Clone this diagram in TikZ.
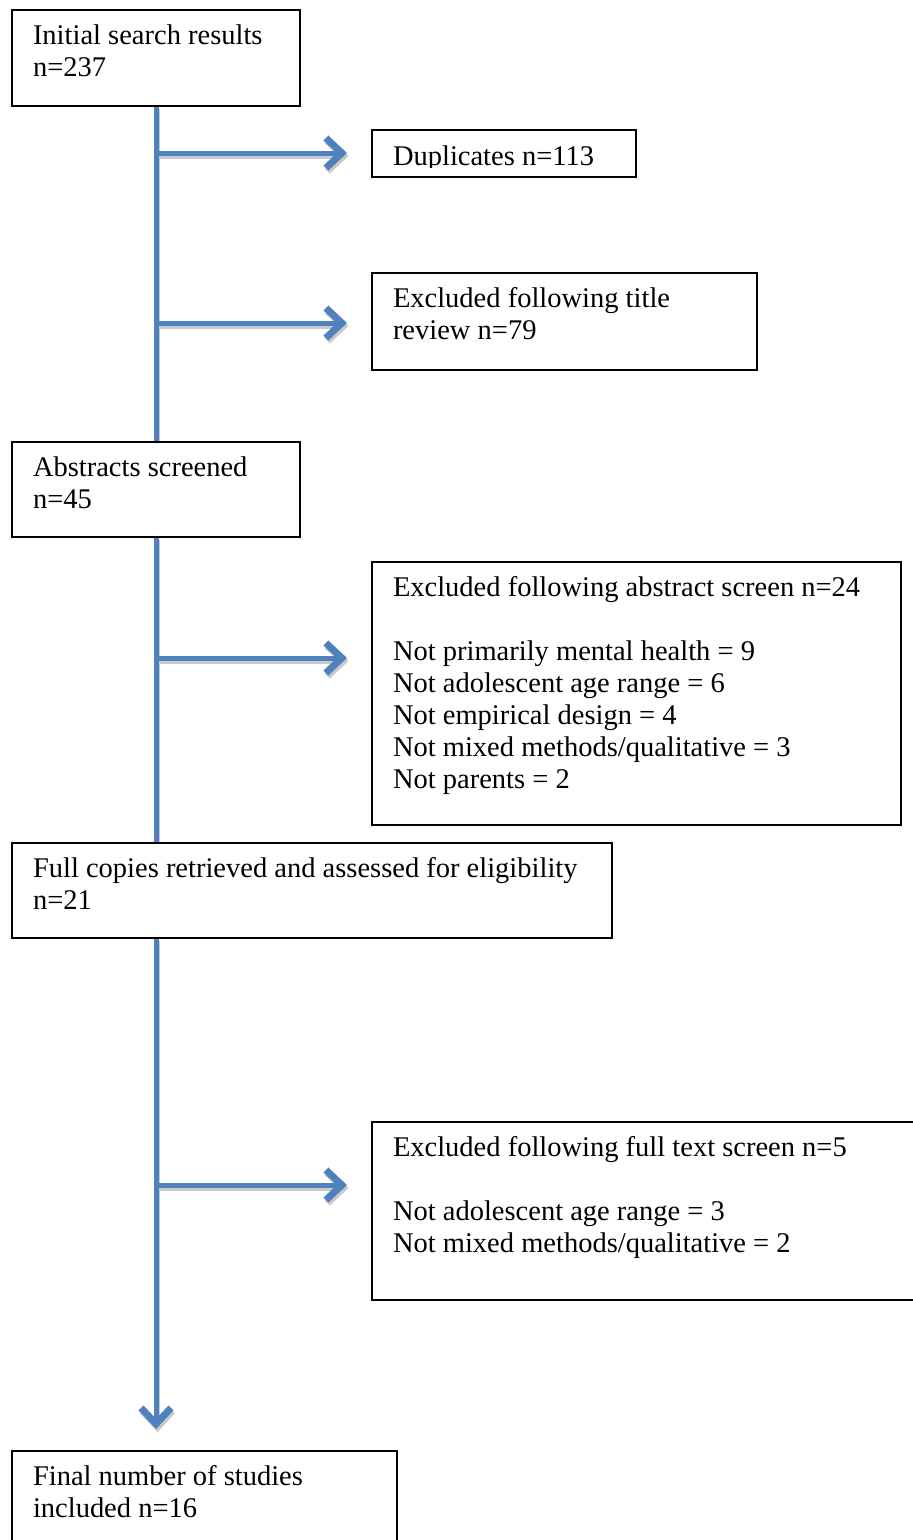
\documentclass[tikz,border=0pt]{standalone}
\usepackage{fontspec}
\setmainfont{Liberation Serif}
\usetikzlibrary{arrows.meta}
\definecolor{flowblue}{HTML}{4F81BD}
\definecolor{shadowgrey}{HTML}{C9C9C9}
\pgfdeclarelayer{bg}
\pgfsetlayers{bg,main}
\newcommand{\flowtxt}[3]{\parbox[t][#2][t]{#1}{\strut #3}}
\begin{document}
\begin{tikzpicture}[x=1pt,y=-1pt,
  fbox/.style={draw=black, line width=1.6pt, fill=white, anchor=north west,
    inner xsep=21pt, inner ysep=12.5pt, outer sep=0pt,
    font=\fontsize{28.5}{32}\selectfont, align=left},
  flow/.style={draw=flowblue, line width=5pt},
  flowshadow/.style={draw=shadowgrey, line width=5pt,
    transform canvas={shift={(1.5pt,-3pt)}}},
  tip/.style={-{Straight Barb[length=16pt,width=30pt,line width=7pt]}},
]
\useasboundingbox (0,0) rectangle (913,1540);

\node[fbox] (b1) at (12,10) {\flowtxt{246pt}{71pt}{Initial search results\\n=237}};
\node[fbox, minimum width=264pt, minimum height=47pt, inner sep=0pt,
  path picture={
    \clip (path picture bounding box.north west) rectangle ([yshift=10pt]path picture bounding box.south east);
    \node[anchor=base west, inner sep=0pt, minimum width=0pt, minimum height=0pt,
      draw=none, fill=none, font=\fontsize{28.5}{32}\selectfont]
      at ([xshift=21pt,yshift=-35pt]path picture bounding box.north west) {Duplicates n=113};
  }] (dup) at (372,130) {};
\node[fbox] (title) at (372,273) {\flowtxt{343pt}{72pt}{Excluded following title\\review n=79}};
\node[fbox] (b3) at (12,442) {\flowtxt{246pt}{70pt}{Abstracts screened\\n=45}};
\node[fbox] (ex2) at (372,562) {\flowtxt{487pt}{238pt}{Excluded following abstract screen n=24\\[32pt]Not primarily mental health = 9\\Not adolescent age range = 6\\Not empirical design = 4\\Not mixed methods/qualitative = 3\\Not parents = 2}};
\node[fbox] (b5) at (12,843) {\flowtxt{558pt}{70pt}{Full copies retrieved and assessed for eligibility\\n=21}};
\node[fbox] (ex3) at (372,1122) {\flowtxt{511pt}{153pt}{Excluded following full text screen n=5\\[32pt]Not adolescent age range = 3\\Not mixed methods/qualitative = 2}};
\node[fbox] (final) at (12,1451) {\flowtxt{343pt}{84pt}{Final number of studies\\included n=16}};

\coordinate (j1) at (156,153);
\coordinate (j2) at (156,323);
\coordinate (j3) at (156,658);
\coordinate (j4) at (156,1185);

\begin{pgfonlayer}{bg}
  % shadows
  \draw[flowshadow] (b1.south) -- (b3.north);
  \draw[flowshadow] (b3.south) -- (b5.north -| b3.south);
  \draw[flowshadow, tip, shorten >=22pt] (b5.south -| b3.south) -- (final.north -| b3.south);
  \draw[flowshadow, tip, shorten >=25pt] (j1) -- (j1 -| dup.west);
  \draw[flowshadow, tip, shorten >=25pt] (j2) -- (j2 -| title.west);
  \draw[flowshadow, tip, shorten >=25pt] (j3) -- (j3 -| ex2.west);
  \draw[flowshadow, tip, shorten >=25pt] (j4) -- (j4 -| ex3.west);
  % connectors
  \draw[flow] (b1.south) -- (b3.north);
  \draw[flow] (b3.south) -- (b5.north -| b3.south);
  \draw[flow, tip, shorten >=22pt] (b5.south -| b3.south) -- (final.north -| b3.south);
  \draw[flow, tip, shorten >=25pt] (j1) -- (j1 -| dup.west);
  \draw[flow, tip, shorten >=25pt] (j2) -- (j2 -| title.west);
  \draw[flow, tip, shorten >=25pt] (j3) -- (j3 -| ex2.west);
  \draw[flow, tip, shorten >=25pt] (j4) -- (j4 -| ex3.west);
\end{pgfonlayer}
\end{tikzpicture}
\end{document}
